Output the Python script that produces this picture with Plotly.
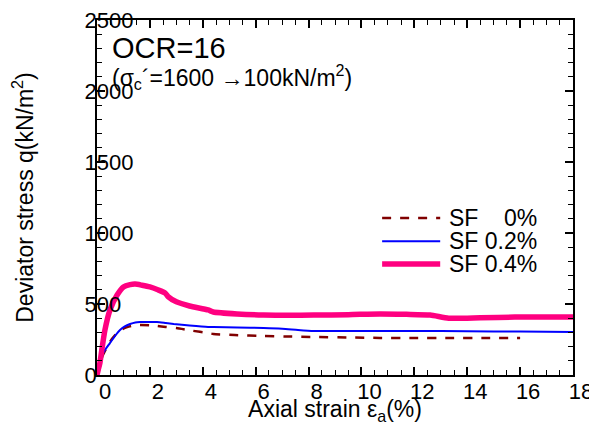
import plotly.graph_objects as go

# Data (strain %, deviator stress kN/m2)
sf0_strain = [0, 0.1, 0.2, 0.38, 0.55, 0.76, 0.95, 1.14, 1.4, 1.63, 2.0, 2.27, 2.6, 3.0, 3.6, 4.2, 4.4, 5.2, 6.3, 7.2, 8.2, 9.5, 10.7, 12.0, 13.3, 14.7, 16.0]
sf0_q = [0, 80, 130, 197, 250, 296, 322, 338, 350, 352, 350, 345, 338, 331, 312, 296, 289, 281, 275, 271, 268, 264, 261, 261, 261, 261, 261]

sf02_strain = [0, 0.1, 0.23, 0.49, 0.7, 0.87, 1.05, 1.25, 1.45, 1.63, 2.0, 2.27, 2.6, 2.9, 3.5, 4.2, 4.4, 5.3, 6.3, 7.0, 7.6, 8.2, 9.5, 10.7, 12.0, 14.0, 16.0, 18.0]
sf02_q = [0, 90, 155, 225, 280, 317, 342, 359, 370, 373, 374, 373, 366, 359, 348, 338, 338, 334, 331, 326, 317, 310, 310, 310, 310, 308, 306, 303]

sf04_strain = [0, 0.05, 0.11, 0.2, 0.3, 0.49, 0.76, 1.0, 1.25, 1.44, 1.7, 2.0, 2.3, 2.58, 2.7, 3.0, 3.5, 4.2, 4.4, 5.3, 6.3, 7.2, 8.2, 9.5, 10.7, 11.7, 12.6, 13.3, 14.5, 15.8, 17.0, 18.0]
sf04_q = [0, 40, 85, 200, 317, 458, 563, 620, 636, 640, 632, 620, 600, 577, 550, 515, 486, 458, 444, 430, 422, 420, 422, 425, 430, 427, 422, 400, 403, 408, 408, 408]

x_ticks = [0, 2, 4, 6, 8, 10, 12, 14, 16, 18]
y_ticks = [0, 500, 1000, 1500, 2000, 2500]

series = [
    dict(x=sf0_strain, y=sf0_q, name="SF\u00a0\u00a0\u00a0\u00a00%",
         line=dict(color="rgb(128,0,0)", width=2.5, dash="dash")),
    dict(x=sf02_strain, y=sf02_q, name="SF 0.2%",
         line=dict(color="rgb(0,0,255)", width=2, dash="solid")),
    dict(x=sf04_strain, y=sf04_q, name="SF 0.4%",
         line=dict(color="rgb(255,0,128)", width=5.5, dash="solid")),
]

font_family = "Liberation Sans, Arial, sans-serif"

fig = go.Figure()
for s in series:
    fig.add_trace(go.Scatter(x=s["x"], y=s["y"], mode="lines", name=s["name"], showlegend=False,
                             line=dict(shape="spline", smoothing=0.6, **s["line"])))

# Hand-built legend (plotly's legend rows are too tall for the reference spacing)
leg_x0, leg_x1, leg_tx = 0.599, 0.721, 0.737
leg_rows = [0.442, 0.377, 0.313]
for s, ry in zip(series, leg_rows):
    fig.add_shape(type="line", xref="paper", yref="paper", x0=leg_x0, x1=leg_x1, y0=ry, y1=ry,
                  line=dict(color=s["line"]["color"], width=s["line"]["width"], dash=s["line"]["dash"]))
    fig.add_annotation(xref="paper", yref="paper", x=leg_tx, y=ry, xanchor="left", yanchor="middle",
                       text=s["name"], showarrow=False, font=dict(size=23), borderpad=0)

fig.update_layout(
    width=589, height=417,
    margin=dict(l=89, r=24, t=12, b=50),
    paper_bgcolor="white", plot_bgcolor="white",
    font=dict(family=font_family, size=22, color="black"),
    showlegend=False,
    xaxis=dict(range=[0, 18], tickvals=x_ticks, ticktext=[str(v) for v in x_ticks],
               ticks="inside", ticklen=8, tickwidth=1.5, tickcolor="black",
               minor=dict(dtick=0.5, ticks="inside", ticklen=5, tickwidth=1.2, tickcolor="black"),
               showline=True, linewidth=2, linecolor="black", mirror="allticks",
               showgrid=False, zeroline=False, ticklabelshift=8, ticklabelstandoff=-4,
               automargin=False,
               tickfont=dict(size=22, color="black"),
               title=dict(text="Axial strain ε<sub>a</sub>(%)", font=dict(size=23), standoff=3)),
    yaxis=dict(range=[0, 2500], tickvals=y_ticks, ticktext=[str(v) for v in y_ticks],
               ticks="inside", ticklen=8, tickwidth=1.5, tickcolor="black",
               minor=dict(dtick=100, ticks="inside", ticklen=5, tickwidth=1.2, tickcolor="black"),
               showline=True, linewidth=2, linecolor="black", mirror="allticks",
               showgrid=False, zeroline=False, automargin=False,
               tickfont=dict(size=22, color="black"),
               ticklabelposition="inside", ticklabelstandoff=-19, ticklabeloverflow="allow",
               title=dict(text="Deviator stress q(kN/m<sup>2</sup>)", font=dict(size=23), standoff=52)),
)

fig.add_annotation(xref="paper", yref="paper", x=0.028, y=0.92, xanchor="left", yanchor="middle",
                   text="OCR=16", showarrow=False, font=dict(size=29))
fig.add_annotation(xref="paper", yref="paper", x=0.028, y=0.84, xanchor="left", yanchor="middle",
                   text="(σ<sub>c</sub>´=1600 →100kN/m<sup>2</sup>)", showarrow=False, font=dict(size=23))

fig.write_html("out.html")
